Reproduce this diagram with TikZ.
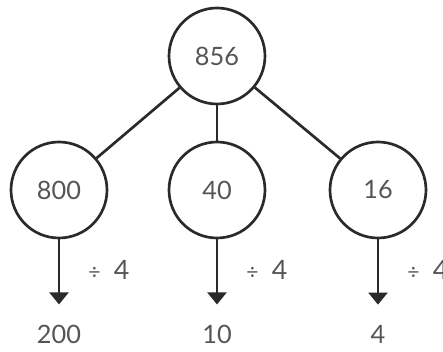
\documentclass[tikz,border=0pt]{standalone}
\usepackage{fontspec}
\setmainfont{Lato}
\usepackage{xcolor}
\usepackage{tikz}
\usetikzlibrary{arrows.meta, positioning, calc}

\definecolor{numgray}{HTML}{555555}
\definecolor{linegray}{HTML}{2A2A2A}

\newcommand{\divsign}{{\fontsize{15}{18}\selectfont÷}}

\begin{document}
\begin{tikzpicture}[
  part/.style  = {draw=linegray, circle, line width=1.9pt, minimum size=2.4cm,
                  inner sep=0pt, text=numgray, font=\fontsize{18}{21}\selectfont},
  res/.style   = {text=numgray, inner sep=0pt, font=\fontsize{18}{21}\selectfont},
  split/.style = {draw=linegray, line width=1.9pt},
  divi/.style  = {draw=linegray, line width=2pt,
                  -{Triangle[width=0.47cm, length=0.3cm]}, shorten >=0.5cm},
  oplab/.style = {right, pos=0.36, xshift=0.7cm, inner sep=0pt, text=numgray,
                  font=\fontsize{19}{22}\selectfont},
]

\useasboundingbox (0,0) rectangle (11.075,8.8);
\clip (0,0) rectangle (11.075,8.8);

% ── Whole number ──────────────────────────────────────────────────────────────
\node[part] (whole) at (5.425,7.4)  {856};

% ── Partitioned parts ─────────────────────────────────────────────────────────
\node[part] (p1) at (1.475,4.05) {800};
\node[part] (p2) at (5.425,4.05) {40};
\node[part] (p3) at (9.45,4.05)  {16};

% ── Results ───────────────────────────────────────────────────────────────────
\node[res]  (r1) at (1.475,0.45) {200};
\node[res]  (r2) at (5.425,0.45) {10};
\node[res]  (r3) at (9.45,0.45)  {4};

% ── Split lines ───────────────────────────────────────────────────────────────
\draw[split] (whole) -- (p1);
\draw[split] (whole) -- (p2);
\draw[split] (whole) -- (p3);

% ── Division arrows ───────────────────────────────────────────────────────────
\draw[divi] (p1) -- node[oplab]{\divsign\enspace4} (r1);
\draw[divi] (p2) -- node[oplab]{\divsign\enspace4} (r2);
\draw[divi] (p3) -- node[oplab]{\divsign\enspace4} (r3);

\end{tikzpicture}
\end{document}
